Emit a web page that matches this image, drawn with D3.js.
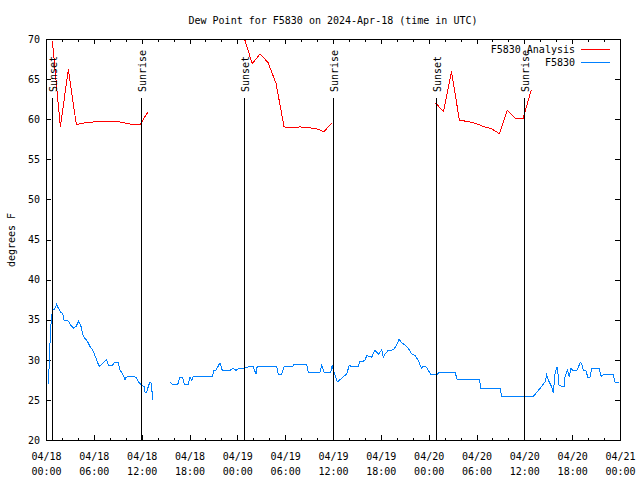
<!DOCTYPE html>
<html><head><meta charset="utf-8">
<script src="https://cdn.jsdelivr.net/npm/d3@7"></script>
<style>
body{margin:0;background:#fff}
svg{display:block}
text{font-family:"DejaVu Sans Mono","Liberation Mono",monospace;font-size:10px;fill:#000}
</style>
</head><body><svg id="c" width="640" height="480"></svg>
<script>
// ---------- data ----------
const title = "Dew Point for F5830 on 2024-Apr-18 (time in UTC)";
const yLabel = "degrees F";
const seriesNames = ["F5830 Analysis", "F5830"];
const seriesColors = ["#ff0000", "#0080ff"];
const startTime = Date.UTC(2024, 3, 18, 0, 0);
const totalHours = 72;
const yTicks = [20, 25, 30, 35, 40, 45, 50, 55, 60, 65, 70];
const xMajorHours = [0, 6, 12, 18, 24, 30, 36, 42, 48, 54, 60, 66, 72];
const xMinorHours = d3.range(0, 73, 2);
const sunsetHours = [0.75, 24.79, 48.87];
const sunriseHours = [11.92, 35.95, 59.91];

// analysis (hourly), null = gap
const analysisHours = [
  0.74, 1.74, 2.74, 3.74, 4.74, 5.74, 6.74, 7.74, 8.74, 9.74, 10.74, 11.74, 12.74,
  18,
  24.8, 25.8, 26.8, 27.8, 28.8, 29.8, 30.8, 31.8, 32.8, 33.8, 34.8, 35.8,
  42,
  48.8, 49.8, 50.8, 51.8, 52.8, 53.8, 54.8, 55.8, 56.8, 57.8, 58.8, 59.8, 60.8
];
const analysisValues = [
  69.8, 59.1, 66.3, 59.4, 59.6, 59.7, 59.8, 59.8, 59.8, 59.6, 59.4, 59.4, 61.0,
  null,
  70.2, 67.0, 68.2, 67.1, 64.5, 59.1, 59.0, 59.1, 59.0, 58.9, 58.5, 59.6,
  null,
  62.1, 61.0, 66.0, 59.9, 59.8, 59.55, 59.15, 58.9, 58.25, 61.2, 60.2, 60.2, 63.7
];

// observations
const obsHours = [
  0.23, 0.31, 0.44, 0.56, 0.65, 0.78, 0.98, 1.28, 1.48, 1.78, 2.03, 2.20, 2.73, 3.04, 3.36, 3.70,
  4.04, 4.29, 4.54, 4.83, 5.12, 5.46, 5.80, 6.08, 6.37, 6.62, 6.92, 7.55, 7.75, 8.30, 8.47, 9.01,
  9.22, 9.56, 9.85, 9.97, 10.47, 11.23, 11.52, 11.94, 12.23, 12.36, 12.57, 12.77, 12.98, 13.11,
  13.27, 13.32,
  14.4,
  15.49, 15.78, 16.46, 16.75, 17.08, 17.29, 17.79, 18.00, 18.21, 18.41, 20.80, 21.01, 21.26, 21.76,
  22.05, 23.02, 23.43, 23.77, 24.18, 24.69, 25.53, 25.94, 26.28, 26.37, 26.57, 28.88, 29.08, 29.50,
  29.79, 30.88, 31.05, 32.64, 32.84, 34.31, 34.52, 34.81, 35.65, 35.85, 35.98, 36.48, 37.66, 37.98,
  38.16, 39.11, 39.33, 39.54, 39.95, 40.17, 40.37, 40.79, 41.21, 41.42, 41.62, 42.05, 42.25, 42.46,
  42.88, 43.50, 43.93, 44.22, 44.56, 44.97, 45.38, 45.81, 46.22, 46.64, 46.85, 47.06, 47.26, 47.60,
  47.89, 48.19, 48.95, 49.27, 51.24, 51.53, 54.29, 54.50, 56.89, 57.10, 61.06, 61.49, 62.12, 62.53,
  62.74, 62.95, 63.16, 63.37, 63.57, 63.79, 64.07, 64.29, 64.63, 64.92, 65.04, 65.33, 65.58, 65.79,
  66.01, 66.51, 66.71, 66.92, 67.13, 67.34, 67.67, 67.89, 68.18, 68.39, 69.34, 69.56, 69.85, 71.10,
  71.31, 71.85
];
const obsValues = [
  27.1, 28.8, 32.1, 34.4, 35.6, 36.25, 36.3, 37.0, 36.5, 36.0, 35.8, 35.0, 34.9, 34.4, 34.0, 34.2,
  34.9, 34.4, 33.25, 32.7, 32.4, 31.7, 31.25, 30.6, 29.8, 29.25, 29.5, 30.1, 29.4, 29.4, 29.7, 29.7,
  28.8, 28.3, 27.6, 27.9, 28.0, 27.9, 27.3, 26.9, 26.75, 26.0, 26.0, 26.75, 27.3, 27.2,
  25.8, 25.0,
  null,
  27.3, 27.0, 27.0, 27.9, 27.9, 27.0, 27.0, 27.9, 27.5, 28.0, 28.0, 28.8, 28.75, 29.7,
  28.75, 28.75, 29.0, 28.75, 29.0, 29.0, 29.25, 29.2, 28.25, 29.1, 29.25, 29.25, 28.25, 28.25,
  29.2, 29.2, 29.5, 29.5, 28.5, 28.5, 29.4, 28.5, 28.5, 29.4, 28.75, 27.3, 28.3, 29.4,
  29.25, 29.2, 29.9, 29.8, 30.0, 30.6, 30.5, 30.4, 31.25, 31.0, 30.75, 31.3, 30.4, 30.8,
  31.25, 31.3, 31.9, 32.6, 32.2, 31.9, 31.5, 30.8, 30.6, 30.0, 29.4, 29.0, 29.25, 29.2,
  28.75, 28.25, 28.2, 28.5, 28.5, 27.6, 27.6, 26.5, 26.5, 25.5, 25.5, 26.0, 26.75, 27.3,
  28.2, 27.5, 27.1, 26.7, 25.9, 28.4, 29.2, 26.9, 26.75, 26.7, 27.9, 28.8, 27.9, 29.0,
  28.75, 28.75, 29.1, 29.7, 29.6, 28.75, 28.7, 27.9, 27.9, 29.0, 29.0, 28.0, 28.2, 28.2,
  27.3, 27.2
];

// ---------- drawing ----------
const H = 3600 * 1000;
const toDate = h => new Date(startTime + h * H);
const svg = d3.select("#c");
const x = d3.scaleUtc().domain([toDate(0), toDate(totalHours)]).range([46, 620]);
const y = d3.scaleLinear().domain([20, 70]).range([440, 39]);
const FONT = '"DejaVu Sans Mono","Liberation Mono",monospace';

svg.append("rect").attr("width", 640).attr("height", 480).attr("fill", "#fff");

// clip
svg.append("clipPath").attr("id", "clip").append("rect")
  .attr("x", 46.5).attr("y", 39.5).attr("width", 574).attr("height", 401);

// ticks (inward, all four sides)
function styleAxis(g) {
  g.select(".domain").remove();
  g.selectAll("line").attr("stroke", "#000").attr("shape-rendering", "crispEdges");
  g.attr("font-family", FONT).attr("font-size", 10);
}
svg.append("g").attr("transform", "translate(0,440)")
  .call(d3.axisBottom(x).tickValues(xMinorHours.map(toDate)).tickSize(-2.5).tickFormat(""))
  .call(styleAxis);
svg.append("g").attr("transform", "translate(0,39)")
  .call(d3.axisTop(x).tickValues(xMinorHours.map(toDate)).tickSize(-2.5).tickFormat(""))
  .call(styleAxis);
svg.append("g").attr("transform", "translate(0,440)")
  .call(d3.axisBottom(x).tickValues(xMajorHours.map(toDate)).tickSize(-5).tickFormat(""))
  .call(styleAxis);
svg.append("g").attr("transform", "translate(0,39)")
  .call(d3.axisTop(x).tickValues(xMajorHours.map(toDate)).tickSize(-5).tickFormat(""))
  .call(styleAxis);
svg.append("g").attr("transform", "translate(46,0)")
  .call(d3.axisLeft(y).tickValues(yTicks).tickSize(-5).tickFormat(""))
  .call(styleAxis);
svg.append("g").attr("transform", "translate(620,0)")
  .call(d3.axisRight(y).tickValues(yTicks).tickSize(-5).tickFormat(""))
  .call(styleAxis);

// tick labels
const fmtDate = d3.utcFormat("%m/%d");
const fmtTime = d3.utcFormat("%H:%M");
const xl = svg.append("g").attr("transform", "translate(0,440)")
  .call(d3.axisBottom(x).tickValues(xMajorHours.map(toDate)).tickSize(0).tickPadding(0))
  .call(styleAxis);
xl.selectAll("line").remove();
xl.selectAll(".tick text").each(function(d) {
  const t = d3.select(this);
  t.text(null).attr("dy", null).attr("y", 19.5).attr("fill", "#000");
  t.append("tspan").attr("x", 0).text(fmtDate(d));
  t.append("tspan").attr("x", 0).attr("dy", 15).text(fmtTime(d));
});
const yl = svg.append("g").attr("transform", "translate(46,0)")
  .call(d3.axisLeft(y).tickValues(yTicks).tickSize(0).tickPadding(6))
  .call(styleAxis);
yl.selectAll("line").remove();
yl.selectAll(".tick text").attr("fill", "#000");

// data
const plot = svg.append("g").attr("clip-path", "url(#clip)");
const line = d3.line()
  .defined(d => d[1] != null)
  .x(d => x(toDate(d[0])) + 0.5)
  .y(d => y(d[1]) + 0.5);
const analysis = analysisHours.map((h, i) => [h, analysisValues[i]]);
const obs = obsHours.map((h, i) => [h, obsValues[i]]);
plot.append("path").datum(analysis).attr("d", line)
  .attr("fill", "none").attr("stroke", seriesColors[0]).attr("stroke-width", 1)
  .attr("shape-rendering", "crispEdges");
plot.append("path").datum(obs).attr("d", line)
  .attr("fill", "none").attr("stroke", seriesColors[1]).attr("stroke-width", 1)
  .attr("shape-rendering", "crispEdges");

// sunrise / sunset markers
const events = sunsetHours.map(h => ["Sunset", h]).concat(sunriseHours.map(h => ["Sunrise", h]));
events.forEach(([name, h]) => {
  const px = Math.floor(x(toDate(h)) + 0.5) + 0.5;
  svg.append("line").attr("x1", px).attr("x2", px).attr("y1", 98).attr("y2", 440)
    .attr("stroke", "#000").attr("stroke-width", 1).attr("shape-rendering", "crispEdges");
  svg.append("text").attr("transform", `translate(${px + 4.3},92) rotate(-90)`)
    .attr("text-anchor", "start").text(name);
});

// frame
svg.append("rect").attr("x", 46.5).attr("y", 39.5).attr("width", 574).attr("height", 401)
  .attr("fill", "none").attr("stroke", "#000").attr("shape-rendering", "crispEdges");

// legend
seriesNames.forEach((name, i) => {
  const ly = 49.5 + i * 13;
  svg.append("text").attr("x", 575).attr("y", ly + 3.5).attr("text-anchor", "end").text(name);
  svg.append("line").attr("x1", 581).attr("x2", 610).attr("y1", ly).attr("y2", ly)
    .attr("stroke", seriesColors[i]).attr("stroke-width", 1).attr("shape-rendering", "crispEdges");
});

// title + y label
svg.append("text").attr("x", 333).attr("y", 23.5).attr("text-anchor", "middle").text(title);
svg.append("text").attr("transform", "translate(14.5,240) rotate(-90)")
  .attr("text-anchor", "middle").text(yLabel);
</script>
</body></html>
